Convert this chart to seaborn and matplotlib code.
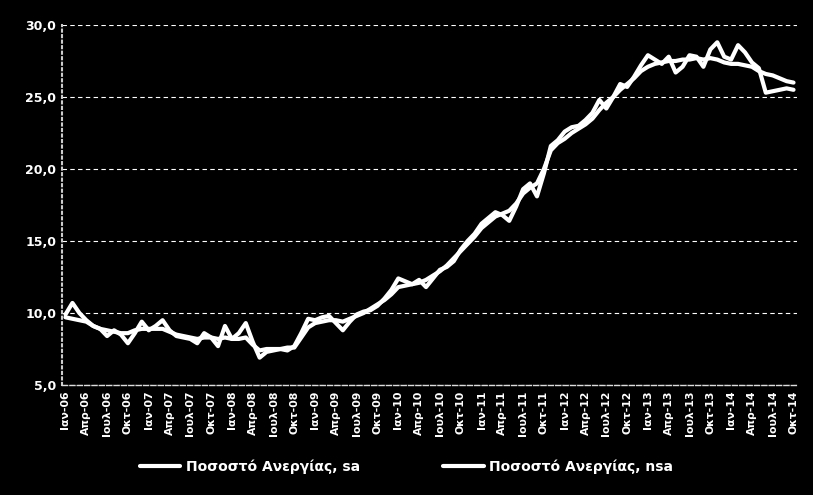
import matplotlib
matplotlib.use("Agg")
import matplotlib.pyplot as plt
from matplotlib.ticker import FuncFormatter
import seaborn as sns
import pandas as pd

# Greek monthly unemployment rate, Jan-2006 .. Oct-2014
years = list(range(2006, 2015))
month_names = ["Ιαν", "Φεβ", "Μαρ", "Απρ", "Μαϊ", "Ιουν",
               "Ιουλ", "Αυγ", "Σεπ", "Οκτ", "Νοε", "Δεκ"]

sa = [
    9.7, 9.6, 9.5, 9.4, 9.1, 8.9, 8.8, 8.7, 8.6, 8.6, 8.8, 8.9,
    8.9, 8.9, 8.9, 8.7, 8.5, 8.4, 8.3, 8.2, 8.3, 8.3, 8.2, 8.3,
    8.2, 8.2, 8.3, 7.8, 7.4, 7.5, 7.5, 7.5, 7.6, 7.6, 8.3, 9.0,
    9.3, 9.4, 9.5, 9.5, 9.4, 9.6, 9.8, 10.0, 10.3, 10.6, 10.9, 11.3,
    11.8, 11.9, 12.0, 12.1, 12.3, 12.6, 12.9, 13.3, 13.8, 14.3, 14.8, 15.3,
    15.9, 16.3, 16.7, 16.9, 17.1, 17.6, 18.3, 18.7, 19.0, 20.0, 21.3, 21.8,
    22.1, 22.5, 22.8, 23.1, 23.5, 24.1, 24.6, 25.0, 25.5, 25.9, 26.3, 26.8,
    27.1, 27.3, 27.4, 27.5, 27.5, 27.6, 27.6, 27.7, 27.6, 27.7, 27.6, 27.4,
    27.3, 27.3, 27.2, 27.1, 26.8, 26.6, 26.5, 26.3, 26.1, 26.0,
]

nsa = [
    9.9, 10.7, 10.0, 9.5, 9.1, 8.9, 8.4, 8.8, 8.5, 7.9, 8.6, 9.4,
    8.8, 9.1, 9.5, 8.8, 8.4, 8.3, 8.2, 7.9, 8.6, 8.3, 7.7, 9.1,
    8.2, 8.6, 9.3, 8.0, 6.9, 7.3, 7.4, 7.5, 7.4, 7.7, 8.6, 9.6,
    9.5, 9.7, 9.8, 9.3, 8.8, 9.4, 9.9, 10.1, 10.2, 10.5, 11.0, 11.6,
    12.4, 12.2, 12.0, 12.3, 11.8, 12.4, 13.0, 13.2, 13.6, 14.4, 15.0, 15.5,
    16.2, 16.6, 17.0, 16.8, 16.4, 17.4, 18.6, 19.0, 18.1, 19.7, 21.6, 22.0,
    22.6, 22.9, 23.0, 23.4, 23.9, 24.8, 24.2, 25.0, 25.9, 25.7, 26.4, 27.2,
    27.9, 27.6, 27.3, 27.8, 26.7, 27.1, 27.9, 27.8, 27.1, 28.3, 28.8, 27.8,
    27.6, 28.6, 28.1, 27.4, 27.0, 25.3, 25.4, 25.5, 25.6, 25.5,
]

labels = [f"{month_names[i % 12]}-{str(years[i // 12])[2:]}" for i in range(len(sa))]

df = pd.DataFrame({
    "idx": list(range(len(sa))) * 2,
    "value": sa + nsa,
    "series": ["Ποσοστό Ανεργίας, sa"] * len(sa) + ["Ποσοστό Ανεργίας, nsa"] * len(nsa),
})

sns.set_theme(style="dark", rc={
    "figure.facecolor": "black",
    "axes.facecolor": "black",
    "axes.edgecolor": "white",
    "text.color": "white",
    "xtick.color": "white",
    "ytick.color": "white",
})
plt.rcParams["font.family"] = ["DejaVu Sans"]

fig = plt.figure(figsize=(8.13, 4.95), dpi=100)
ax = fig.add_axes([0.0763, 0.2222, 0.9040, 0.7273])

sns.lineplot(data=df, x="idx", y="value", hue="series",
             palette=["white", "white"], linewidth=3, ax=ax, legend=True)

ax.set_xlim(-0.5, len(sa) - 0.5)
ax.set_ylim(5, 30)
ax.set_yticks([5, 10, 15, 20, 25, 30])
ax.yaxis.set_major_formatter(FuncFormatter(lambda v, p: f"{v:.1f}".replace(".", ",")))
ax.set_xticks(range(0, len(sa), 3))
ax.set_xticklabels(labels[::3], rotation=90, fontsize=7.8, fontweight="bold")
for t in ax.get_yticklabels():
    t.set_fontweight("bold")
    t.set_fontsize(9)
ax.tick_params(axis="both", length=0, pad=4)
ax.set_xlabel("")
ax.set_ylabel("")

ax.yaxis.grid(True, color="white", linestyle=(0, (4, 3)), linewidth=0.8)
ax.xaxis.grid(False)
for side in ["top", "right"]:
    ax.spines[side].set_visible(False)
ax.spines["left"].set_color("#cccccc")
ax.spines["left"].set_linestyle(":")
ax.spines["left"].set_linewidth(1.5)
ax.spines["bottom"].set_color("#dddddd")
ax.spines["bottom"].set_linestyle("--")
ax.spines["bottom"].set_linewidth(1.0)

# legend sits below the month labels, centred on the figure
handles, names = ax.get_legend_handles_labels()
ax.get_legend().remove()
leg = fig.legend(handles, names, loc="center", bbox_to_anchor=(0.5, 0.057), ncol=2,
                 frameon=False, fontsize=10, columnspacing=6, handlelength=2.9,
                 handletextpad=0.4)
for text in leg.get_texts():
    text.set_color("white")
    text.set_fontweight("bold")

fig.savefig("out.png", dpi=100, facecolor="black")
